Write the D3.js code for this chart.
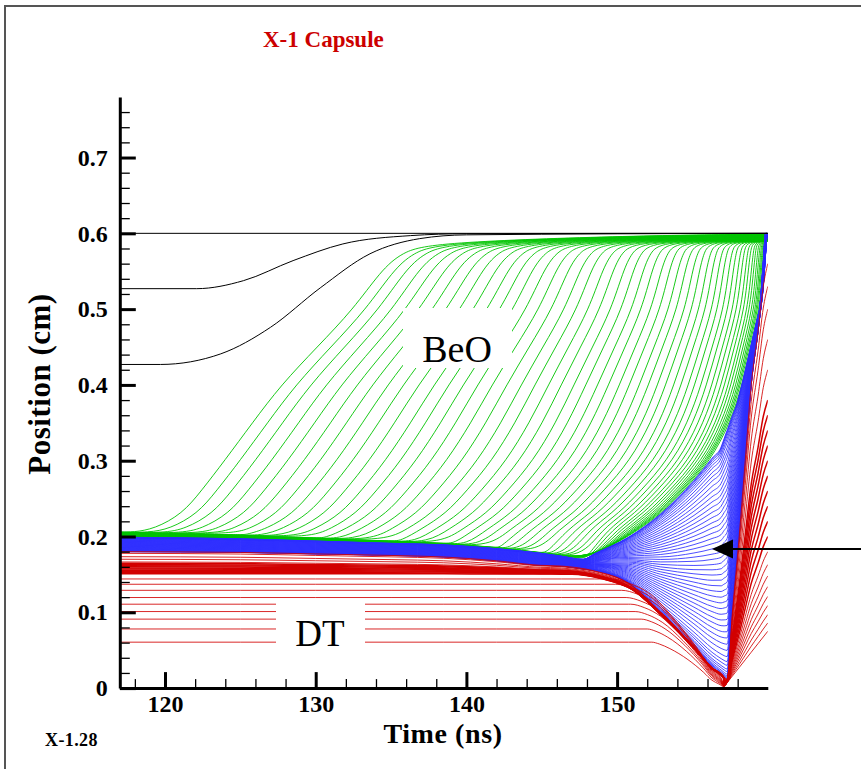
<!DOCTYPE html>
<html>
<head>
<meta charset="utf-8">
<script src="https://cdn.jsdelivr.net/npm/d3@7"></script>
<style>
  body { margin: 0; background: #fff; }
  svg { display: block; }
  text { font-family: "Liberation Serif", "Times New Roman", serif; }
</style>
</head>
<body>
<svg id="chart" width="861" height="769"></svg>
<script>
// ---- values (time in ns, position in cm) ----

// green / blue interface (inner edge of the BeO zones)
const innerGreenT = [117, 125, 130, 135, 138.5, 142, 144.9, 147.75, 150.75, 152.9, 155.1, 156.9, 158.0, 158.35, 159.45, 159.85];
const innerGreenP = [0.199, 0.197, 0.194, 0.191, 0.189, 0.184, 0.178, 0.170, 0.199, 0.230, 0.274, 0.318, 0.379, 0.406, 0.5, 0.6];

// blue / red interface, then the rebound edge
const blueFloorT = [117, 125, 130, 135, 138.5, 142, 144.9, 146.3, 148.5, 150.75, 152.9, 155.1, 156.3, 157.1, 157.3, 157.65, 158.1, 158.5, 158.9, 159.35, 159.7, 159.95];
const blueFloorP = [0.18, 0.179, 0.177, 0.175, 0.173, 0.168, 0.162, 0.161, 0.155, 0.138, 0.099, 0.054, 0.028, 0.0145, 0.012, 0.1, 0.2, 0.3, 0.4, 0.47, 0.53, 0.6];

// rising part of the first (outermost) green zone and of the inner green edge
const greenLevels = [0.21, 0.23, 0.26, 0.30, 0.35, 0.40, 0.45, 0.50, 0.55, 0.575, 0.588];
const outerGreenTimes = [119.3, 121.15, 122.4, 123.95, 125.8, 127.7, 130.1, 132.5, 134.3, 135.7, 137.8];
const innerGreenTimes = [151.5, 152.9, 154.4, 156.2, 157.5, 158.3, 158.85, 159.45, 159.65, 159.75, 159.8];

// time at which each green zone boundary crosses 0.55 cm
const greenCross = [134.3, 135.1, 135.9, 136.75, 137.6, 138.45, 139.3, 140.15, 141.0, 141.85, 142.7, 143.5,
  144.3, 145.1, 145.9, 146.7, 147.5, 148.25, 149.0, 149.7, 150.4, 151.05, 151.7, 152.3, 152.9, 153.45,
  154.0, 154.5, 155.0, 155.45, 155.9, 156.3, 156.7, 157.05, 157.4, 157.7, 158.0, 158.25, 158.5, 158.7,
  158.9, 159.05, 159.2, 159.32, 159.42, 159.5, 159.57, 159.65];

// relative place of each blue zone boundary inside the blue layer (0 = red side, 1 = green side)
const blueLayerFrac = [0, 0.004, 0.008, 0.013, 0.02, 0.03, 0.04, 0.055, 0.07, 0.09, 0.115, 0.14, 0.165, 0.19,
  0.215, 0.24, 0.265, 0.29, 0.315, 0.34, 0.365, 0.39, 0.415, 0.44, 0.465, 0.49, 0.515, 0.54, 0.565, 0.59,
  0.615, 0.64, 0.665, 0.69, 0.715, 0.74, 0.765, 0.79, 0.815, 0.84, 0.865, 0.89, 0.91, 0.93, 0.95, 0.965,
  0.978, 0.988, 0.995, 1];

// DT zone boundaries: position at 117 ns, time it starts to fall in, position at 160 ns
const redStart = [0.0606, 0.078, 0.091, 0.101, 0.1107, 0.1195, 0.129, 0.137, 0.144, 0.151, 0.1525, 0.154,
  0.1555, 0.157, 0.1585, 0.16, 0.1615, 0.163, 0.1646, 0.1664, 0.170, 0.1734, 0.1778, 0.180];
const redBend = [152.3, 152.0, 151.6, 151.2, 150.9, 150.6, 150.3, 149.9, 149.5, 147.0, 146.95, 146.9,
  146.85, 146.8, 146.75, 146.7, 146.65, 146.6, 146.55, 146.5, 146.45, 146.4, 146.35, 146.3];
const redEnd = [0.075, 0.086, 0.097, 0.109, 0.121, 0.134, 0.148, 0.163, 0.18, 0.2, 0.22, 0.24,
  0.26, 0.28, 0.3, 0.32, 0.34, 0.36, 0.38, 0.42, 0.46, 0.5, 0.53, 0.56];

// implosion of the DT: fraction of start position vs time, top and bottom DT boundary
const descentLevels = [1, 0.96, 0.86, 0.62, 0.34, 0.17, 0.09];
const descentTopT = [146.3, 148.5, 150.75, 152.9, 155.1, 156.3, 157.1];
const descentBottomT = [152.3, 152.8, 153.5, 154.7, 155.75, 156.3, 156.75];

// rebound: top DT boundary after stagnation
const riseTopT = [157.1, 157.3, 157.65, 158.1, 158.5, 158.9, 159.35, 159.7, 160];
const riseTopP = [0.0145, 0.012, 0.1, 0.2, 0.3, 0.4, 0.47, 0.53, 0.56];
const riseBottomT = [157.1, 160];
const riseBottomP = [0.002, 0.075];

// black zones outside the BeO
const blackLines = [
  [[117, 0.6], [160, 0.6]],
  [[117, 0.527], [122.1, 0.527], [125.2, 0.5375], [128.5, 0.564], [131.8, 0.586], [136.3, 0.597], [140, 0.5995], [160, 0.6]],
  [[117, 0.427], [119.7, 0.427], [123.7, 0.441], [127.0, 0.476], [130.3, 0.528], [133.6, 0.573], [136.9, 0.593], [140, 0.598], [160, 0.6]]
];

const xTicks = [120, 130, 140, 150];
const xMinorTicks = [118, 122, 124, 126, 128, 132, 134, 136, 138, 142, 144, 146, 148, 152, 154, 156, 158];
const yTicks = [0, 0.1, 0.2, 0.3, 0.4, 0.5, 0.6, 0.7];
const yMinorTicks = [0.02, 0.04, 0.06, 0.08, 0.12, 0.14, 0.16, 0.18, 0.22, 0.24, 0.26, 0.28, 0.32, 0.34, 0.36, 0.38,
  0.42, 0.44, 0.46, 0.48, 0.52, 0.54, 0.56, 0.58, 0.62, 0.64, 0.66, 0.68, 0.72, 0.74, 0.76];

// ---- drawing ----
const svg = d3.select('#chart');
const x = d3.scaleLinear().domain([117, 160]).range([119.8, 767.8]);
const y = d3.scaleLinear().domain([0, 0.78]).range([688.1, 96.9]);
const line = d3.line().x(d => x(d[0])).y(d => y(d[1])).curve(d3.curveMonotoneX);
const smooth = d3.line().x(d => x(d[0])).y(d => y(d[1])).curve(d3.curveBasis);

svg.append('path')
  .attr('d', 'M5,769V6H861')
  .attr('fill', 'none')
  .attr('stroke', '#555')
  .attr('stroke-width', 2);

const innerGreen = d3.scaleLinear().domain(innerGreenT).range(innerGreenP).clamp(true);
const blueFloor = d3.scaleLinear().domain(blueFloorT).range(blueFloorP).clamp(true);

// green: blend in time between outermost and innermost rising curve
const outerAt = d3.scaleLinear().domain(greenLevels).range(outerGreenTimes);
const innerAt = d3.scaleLinear().domain(greenLevels).range(innerGreenTimes);
const c0 = outerAt(0.55), c1 = innerAt(0.55);
const greenPaths = greenCross.map(c => {
  const w = (c1 - c) / (c1 - c0);
  const rise = greenLevels.map(p => [innerAt(p) + w * (outerAt(p) - innerAt(p)), p]);
  const t0 = rise[0][0] - 1.4;
  const base = innerGreenT.filter(t => t < t0).map(t => [t, innerGreen(t) + 0.007 * w]);
  base.push([t0, innerGreen(t0) + 0.007 * w]);
  const last = rise[rise.length - 1][0];
  const top = [last + 0.6 * (160 - last), 0.597 - 0.008 * (1 - w)];
  return base.concat(rise, [top, [160, 0.599 - 0.009 * (1 - w)]]);
});

// blue: blend in position between red side and green side
const blueTimes = Array.from(new Set(innerGreenT.concat(blueFloorT)))
  .filter(t => t <= 159.95)
  .sort(d3.ascending);
const bluePaths = blueLayerFrac.map(v =>
  blueTimes.map(t => [t, blueFloor(t) + v * (innerGreen(t) - blueFloor(t))]));

// red
const riseTop = d3.scaleLinear().domain(riseTopT).range(riseTopP).clamp(true);
const riseBottom = d3.scaleLinear().domain(riseBottomT).range(riseBottomP).clamp(true);
const hi = d3.max(redStart);
const endLo = d3.min(redEnd), endHi = d3.max(redEnd);
const redPaths = redStart.map((p0, i) => {
  const q = (descentBottomT[0] - redBend[i]) / (descentBottomT[0] - descentTopT[0]);
  const r = (redEnd[i] - endLo) / (endHi - endLo);
  const drift = t => p0 > 0.15 ? 0.15 + (p0 - 0.15) * (blueFloor(t) - 0.15) / (hi - 0.15) : p0;
  const tS = redBend[i];
  const pS = drift(Math.min(tS, 147.5));
  const pts = blueFloorT.filter(t => t < tS).map(t => [t, drift(t)]);
  descentLevels.forEach((s, k) => {
    pts.push([descentBottomT[k] + q * (descentTopT[k] - descentBottomT[k]), s * pS]);
  });
  const tEnd = pts[pts.length - 1][0];
  riseTopT.filter(t => t > tEnd).forEach(t => {
    pts.push([t, riseBottom(t) + r * (riseTop(t) - riseBottom(t))]);
  });
  return { pts, dense: p0 > 0.15 && p0 < 0.166 };
});

svg.append('clipPath').attr('id', 'plot-clip')
  .append('rect').attr('x', x(117)).attr('y', y(0.78)).attr('width', x(160) - x(117)).attr('height', y(0) - y(0.78));

const plot = svg.append('g').attr('clip-path', 'url(#plot-clip)');

plot.append('g')
  .selectAll('path')
  .data(greenPaths)
  .join('path')
  .attr('d', smooth)
  .attr('fill', 'none')
  .attr('stroke', '#00c400')
  .attr('stroke-width', 0.9);

plot.append('g')
  .selectAll('path')
  .data(bluePaths)
  .join('path')
  .attr('d', line)
  .attr('fill', 'none')
  .attr('stroke', '#2d2dff')
  .attr('stroke-width', 0.85);

plot.append('g')
  .selectAll('path')
  .data(redPaths)
  .join('path')
  .attr('d', d => line(d.pts))
  .attr('fill', 'none')
  .attr('stroke', '#d20000')
  .attr('stroke-width', d => d.dense ? 1.5 : 0.85);

plot.append('g')
  .selectAll('path')
  .data(blackLines)
  .join('path')
  .attr('d', line)
  .attr('fill', 'none')
  .attr('stroke', '#000')
  .attr('stroke-width', 1);

// material labels on white boxes
svg.append('rect').attr('x', 403).attr('y', 308).attr('width', 109).attr('height', 60).attr('fill', '#fff');
svg.append('text').attr('x', 457).attr('y', 362).attr('text-anchor', 'middle')
  .style('font-size', '38px').text('BeO');
svg.append('rect').attr('x', 276).attr('y', 601).attr('width', 89).attr('height', 58).attr('fill', '#fff');
svg.append('text').attr('x', 320).attr('y', 646).attr('text-anchor', 'middle')
  .style('font-size', '37px').text('DT');

// axes
const fmt = d => d === 0 ? '0' : d3.format('.1f')(d);
const yAxis = svg.append('g').attr('transform', `translate(${x(117)},0)`)
  .call(d3.axisLeft(y).tickValues(yTicks).tickSize(-16).tickSizeOuter(0).tickPadding(12).tickFormat(fmt));
svg.append('g').attr('transform', `translate(${x(117)},0)`)
  .call(d3.axisLeft(y).tickValues(yMinorTicks).tickSize(-10).tickSizeOuter(0).tickFormat(''))
  .call(g => g.select('.domain').remove())
  .selectAll('line').attr('stroke-width', 1.3);

const xAxis = svg.append('g').attr('transform', `translate(0,${y(0)})`)
  .call(d3.axisBottom(x).tickValues(xTicks).tickSize(-16).tickSizeOuter(0).tickPadding(7).tickFormat(d3.format('d')));
svg.append('g').attr('transform', `translate(0,${y(0)})`)
  .call(d3.axisBottom(x).tickValues(xMinorTicks).tickSize(-9).tickSizeOuter(0).tickFormat(''))
  .call(g => g.select('.domain').remove())
  .selectAll('line').attr('stroke-width', 1.3);

[yAxis, xAxis].forEach(a => {
  a.select('.domain').attr('stroke-width', 3);
  a.selectAll('.tick line').attr('stroke-width', 3);
  a.selectAll('text')
    .style('font-family', '"Liberation Serif", serif')
    .style('font-weight', 'bold')
    .style('font-size', '24px')
    .attr('fill', '#000');
});

// arrow
svg.append('line').attr('x1', 861).attr('y1', 549).attr('x2', 730).attr('y2', 549)
  .attr('stroke', '#000').attr('stroke-width', 2);
svg.append('path').attr('d', 'M712,549L733,539.5L733,558.5Z').attr('fill', '#000');

// texts
svg.append('text').attr('x', 263).attr('y', 47)
  .style('font-size', '23px').style('font-weight', 'bold').attr('fill', '#cc0000')
  .text('X-1 Capsule');
svg.append('text').attr('x', 443).attr('y', 743).attr('text-anchor', 'middle')
  .style('font-size', '28px').style('font-weight', 'bold').style('letter-spacing', '0.6px')
  .text('Time (ns)');
svg.append('text').attr('transform', 'translate(50,384) rotate(-90)').attr('text-anchor', 'middle')
  .style('font-size', '31px').style('font-weight', 'bold').style('letter-spacing', '0.5px')
  .text('Position (cm)');
svg.append('text').attr('x', 45).attr('y', 746)
  .style('font-size', '18px').style('font-weight', 'bold').style('letter-spacing', '0.4px')
  .text('X-1.28');
</script>
</body>
</html>
